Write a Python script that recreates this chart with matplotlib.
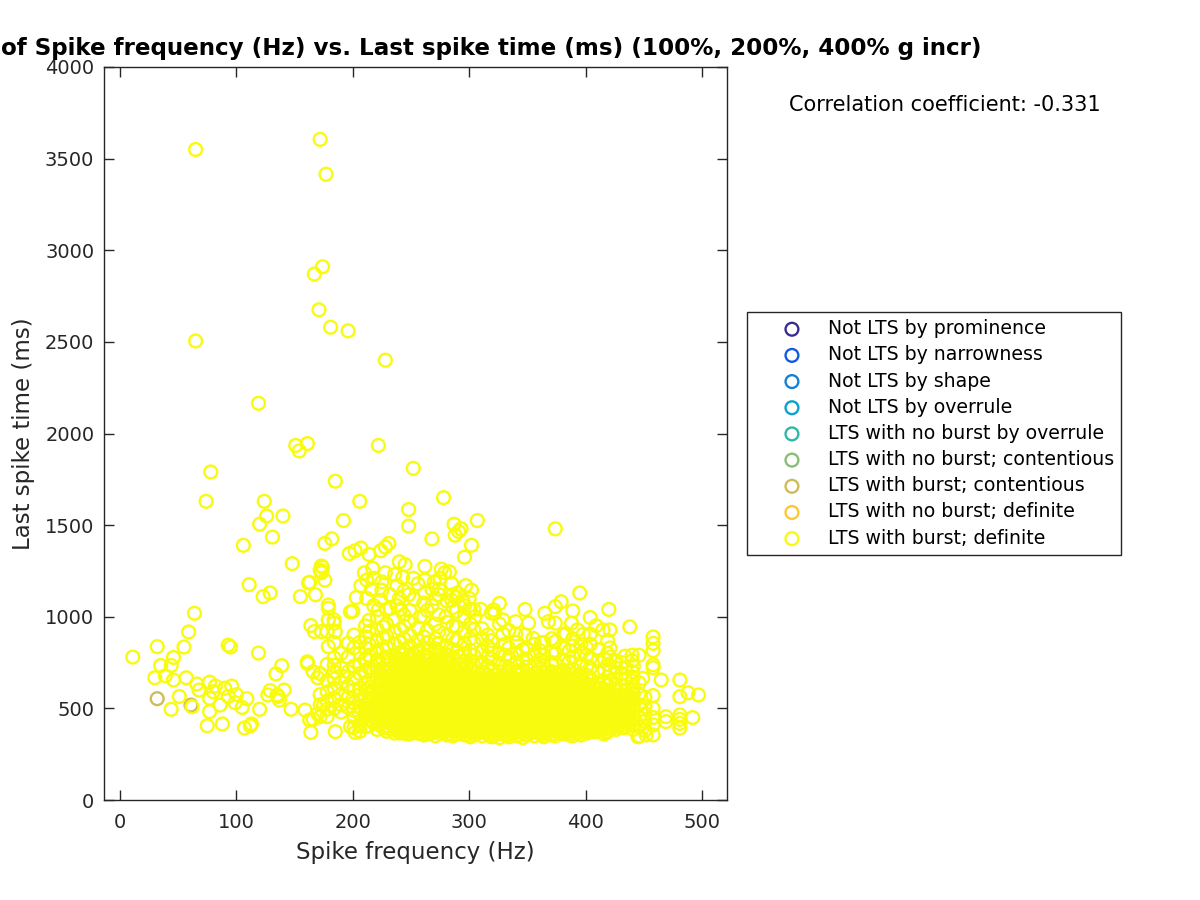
import matplotlib
matplotlib.use("Agg")
import matplotlib.pyplot as plt

# classes in legend order
class_names = ["Not LTS by prominence", "Not LTS by narrowness", "Not LTS by shape",
               "Not LTS by overrule", "LTS with no burst by overrule",
               "LTS with no burst; contentious", "LTS with burst; contentious",
               "LTS with no burst; definite", "LTS with burst; definite"]
class_colors = ["#3a2d90", "#0f5cdd", "#1481d6", "#06a4ca", "#2eb7a4",
                "#87bf77", "#d1bb59", "#fec832", "#f9fb0e"]

title_text = "of Spike frequency (Hz) vs. Last spike time (ms) (100%, 200%, 400% g incr)"
corr_text = "Correlation coefficient: -0.331"

# contentious burst cells
cont_freq = [32, 61]
cont_last = [553, 518]

# scattered cells outside the dense cloud
sparse_freq = [172, 65, 177, 174, 167, 171, 181, 196, 65, 228, 119, 222, 151, 154, 161, 252, 78, 185, 74, 124,
               206, 278, 248, 192, 120, 126, 140, 131, 106, 248, 287, 307, 374, 293, 291, 288, 302, 296, 268, 231,
               228, 224, 214, 207, 202, 197, 182, 176, 148, 174, 173, 176, 162, 168, 155, 129, 123, 111, 200, 203,
               207, 210, 217, 212, 216, 225, 228, 240, 245, 243, 252, 262, 253, 270, 276, 279, 275, 283, 285, 297,
               302, 300,
               32, 11, 64, 59, 55, 46, 35, 44, 30, 39, 46, 57, 66, 68, 77, 82, 80, 96, 90, 93,
               100, 109, 51, 44, 62, 77, 77, 86, 99, 105, 120, 75, 88, 107, 113, 112, 119, 93, 95, 139,
               134, 129, 127, 141, 135, 137, 136, 147, 163, 173, 172, 173, 161, 161, 166, 170, 179, 164, 167, 173,
               179, 185, 179, 179, 198, 179, 184, 184, 184, 184, 193, 164, 185, 198, 202, 159, 166, 163, 170, 175,
               395, 420, 438, 458, 458, 458, 458, 458, 465, 481, 488, 497, 481, 492, 481, 481, 481, 481, 469, 469,
               449, 445, 452, 458, 379, 374, 365, 368, 374, 389, 388, 404, 409, 415, 421, 383, 393, 398, 348, 326,
               321, 322, 329, 340, 351, 329, 340, 348, 355, 362, 458, 458, 458, 458, 440, 440, 440, 440, 440, 440,
               421, 421, 421, 421,
               212, 218, 224, 232, 238, 244, 236, 225, 218, 232, 240, 256, 262, 268, 274, 290, 285, 295, 305, 310,
               300, 262, 268, 280, 258, 248, 238, 222]
sparse_last = [3605, 3550, 3415, 2910, 2870, 2675, 2580, 2560, 2505, 2400, 2165, 1935, 1935, 1905, 1945, 1810, 1790, 1740, 1630, 1630,
               1630, 1650, 1585, 1525, 1505, 1550, 1550, 1435, 1390, 1495, 1505, 1525, 1480, 1480, 1465, 1445, 1390, 1325, 1425, 1400,
               1380, 1360, 1340, 1375, 1360, 1345, 1425, 1400, 1290, 1270, 1250, 1200, 1185, 1120, 1110, 1130, 1110, 1175, 1030, 1105,
               1170, 1240, 1265, 1200, 1150, 1145, 1240, 1300, 1285, 1215, 1210, 1275, 1095, 1190, 1260, 1240, 1210, 1245, 1180, 1170,
               1145, 1100,
               837, 780, 1019, 917, 835, 778, 734, 734, 667, 678, 655, 667, 633, 600, 643, 622, 591, 622, 610, 565,
               575, 553, 565, 495, 509, 482, 555, 518, 531, 505, 495, 405, 415, 393, 415, 405, 802, 845, 835, 733,
               688, 597, 573, 600, 573, 545, 565, 495, 1188, 1277, 1255, 1240, 754, 745, 700, 667, 837, 952, 919, 919,
               1064, 919, 1046, 983, 1027, 983, 983, 965, 776, 735, 673, 369, 373, 400, 369, 491, 440, 437, 470, 520,
               1130, 1040, 945, 890, 855, 815, 738, 722, 655, 655, 585, 573, 564, 450, 464, 440, 418, 392, 455, 428,
               664, 345, 355, 355, 1082, 1055, 1019, 973, 965, 1032, 965, 996, 951, 928, 928, 909, 928, 905, 1040, 1073,
               1037, 1019, 983, 973, 965, 906, 906, 900, 882, 858, 570, 500, 450, 410, 790, 760, 700, 650, 600, 560,
               830, 780, 700, 650,
               1100, 1060, 1090, 1120, 1170, 1140, 1230, 1190, 1210, 1045, 1100, 1180, 1130, 1060, 1120, 1130, 1090, 1080, 1000, 1040,
               1040, 1200, 1150, 1000, 1000, 1120, 1060, 1040]

# dense cloud, one list of last spike times per spike frequency
core_freq = [172, 178, 184, 190, 196, 201, 206, 211, 214, 221, 226, 229, 236, 241, 244, 249, 256, 261, 264, 271,
             274, 281, 286, 289, 296, 301, 304, 311, 316, 319, 326, 331, 334, 341, 346, 349, 356, 361, 364, 371,
             374, 381, 386, 389, 396, 401, 404, 411, 416, 419, 426, 431, 434, 441, 446, 451]
core_last = [
    [455, 520, 575, 690],
    [455, 495, 540, 590, 650, 740, 920],
    [500, 555, 610, 660, 700, 860],
    [480, 520, 575, 640, 720, 800],
    [505, 560, 620, 700, 780, 855],
    [395, 450, 490, 530, 600, 660, 730, 830, 900],
    [375, 410, 470, 505, 540, 575, 610, 690, 740, 800, 860],
    [400, 455, 490, 520, 560, 600, 640, 700, 770, 830, 890, 950],
    [405, 440, 480, 510, 545, 580, 615, 650, 720, 790, 850, 920, 980],
    [385, 430, 465, 495, 525, 560, 590, 625, 665, 710, 760, 815, 870, 930, 1000],
    [395, 420, 450, 480, 510, 540, 570, 605, 640, 680, 720, 770, 820, 885, 945],
    [375, 405, 435, 465, 490, 520, 545, 575, 600, 630, 660, 695, 735, 780, 835, 895, 960, 1040],
    [365, 395, 420, 450, 475, 500, 530, 555, 585, 610, 640, 670, 705, 745, 790, 850, 920, 985],
    [365, 385, 410, 440, 465, 490, 515, 540, 565, 595, 620, 650, 680, 715, 755, 805, 860, 930, 1040],
    [370, 400, 425, 450, 480, 505, 530, 555, 580, 605, 635, 660, 690, 725, 765, 820, 880, 950, 1010],
    [360, 385, 415, 440, 465, 490, 520, 545, 570, 595, 625, 650, 680, 710, 745, 790, 840, 900, 975, 1035],
    [365, 395, 420, 450, 475, 500, 525, 555, 580, 610, 635, 665, 695, 730, 770, 815, 870, 940],
    [355, 380, 410, 435, 460, 490, 515, 540, 565, 590, 620, 645, 675, 705, 740, 785, 830, 890, 1000, 1075],
    [360, 390, 415, 445, 470, 495, 525, 550, 575, 600, 630, 655, 685, 720, 760, 810, 860, 925, 1035],
    [350, 380, 405, 430, 460, 485, 510, 535, 565, 590, 615, 640, 670, 700, 735, 775, 825, 880, 960, 1100],
    [365, 390, 420, 445, 470, 500, 525, 550, 575, 605, 630, 660, 690, 725, 765, 805, 855, 920, 1010, 1150],
    [355, 380, 405, 435, 460, 485, 510, 540, 565, 590, 615, 645, 675, 705, 745, 790, 840, 900, 970, 1085],
    [350, 375, 400, 425, 450, 480, 505, 530, 555, 580, 610, 635, 665, 700, 730, 775, 820, 880, 950, 1050, 1120],
    [360, 385, 415, 440, 465, 490, 520, 545, 570, 600, 625, 655, 685, 720, 760, 810, 870, 945, 1030, 1105],
    [355, 380, 405, 430, 460, 485, 510, 535, 560, 590, 615, 645, 680, 715, 755, 800, 850, 920, 1000, 1060],
    [345, 370, 400, 425, 450, 475, 505, 530, 555, 580, 610, 640, 670, 710, 760, 815, 880, 960, 1040],
    [355, 385, 410, 435, 465, 490, 515, 540, 565, 595, 625, 655, 690, 735, 790, 860, 930, 1040],
    [350, 375, 400, 425, 450, 480, 505, 530, 555, 585, 615, 650, 700, 750, 810, 880, 935],
    [360, 385, 410, 440, 465, 490, 515, 540, 570, 600, 635, 680, 730, 780, 840, 900],
    [345, 370, 395, 420, 450, 475, 500, 530, 555, 585, 620, 665, 715, 770, 820, 870, 1020],
    [340, 365, 390, 415, 440, 465, 495, 520, 550, 580, 610, 655, 700, 745, 800, 960],
    [355, 380, 405, 430, 455, 485, 510, 535, 565, 600, 640, 685, 730, 790, 850],
    [345, 370, 395, 420, 450, 475, 500, 525, 555, 590, 630, 670, 720, 775, 830, 925],
    [350, 375, 400, 430, 455, 480, 505, 535, 570, 610, 650, 700, 750, 800, 860],
    [340, 365, 395, 420, 445, 470, 500, 525, 555, 590, 625, 665, 710, 760, 820],
    [355, 380, 405, 430, 460, 485, 510, 540, 570, 605, 640, 680, 725, 770, 830],
    [350, 375, 400, 425, 450, 480, 505, 530, 560, 590, 620, 655, 690, 740, 795, 850],
    [360, 385, 410, 435, 465, 490, 515, 545, 575, 605, 640, 675, 715, 765, 815],
    [345, 370, 395, 425, 450, 475, 505, 530, 555, 585, 615, 650, 690, 735, 790, 860],
    [355, 380, 405, 430, 460, 485, 510, 535, 565, 595, 625, 660, 700, 750, 805, 880],
    [350, 375, 400, 430, 455, 480, 505, 535, 560, 590, 625, 655, 695, 745, 800, 865],
    [360, 385, 410, 435, 460, 490, 515, 540, 570, 600, 630, 665, 710, 760, 830, 900],
    [355, 380, 405, 430, 455, 480, 510, 535, 565, 595, 625, 665, 705, 755, 815],
    [350, 375, 400, 425, 455, 480, 505, 530, 555, 585, 620, 660, 715, 780, 840, 880],
    [355, 380, 410, 435, 460, 485, 510, 540, 570, 600, 645, 690, 740, 800, 850],
    [365, 390, 415, 440, 465, 495, 520, 550, 590, 630, 680, 730, 790, 830],
    [375, 400, 425, 450, 480, 505, 530, 565, 610, 665, 720, 775, 850, 905],
    [380, 405, 430, 455, 480, 510, 540, 580, 640, 700, 760, 820],
    [360, 385, 410, 435, 465, 490, 520, 555, 600, 650, 710, 770],
    [375, 400, 425, 450, 480, 505, 540, 590, 625, 670, 740, 800, 870],
    [385, 410, 435, 460, 490, 515, 560, 605, 660, 720, 760],
    [395, 420, 445, 470, 500, 535, 575, 625, 690, 750],
    [400, 425, 450, 475, 510, 550, 600, 660, 720, 785],
    [385, 410, 435, 460, 490, 515, 545, 580, 620, 670, 730],
    [350, 400, 450, 520, 580, 640, 790],
    [380, 430, 470, 510, 560],
]

# second pass over the solid part of the cloud
fill_freq = [218, 223, 232, 238, 243, 246, 252, 258, 263, 267, 272, 278, 283, 291, 294, 298, 303, 307, 313, 318,
             322, 328, 333, 337, 343, 348, 352, 358, 363, 367, 372, 378, 383, 387, 393, 398, 403, 408, 413, 418,
             423, 428, 433, 438]
fill_last = [
    [420, 470, 505, 550, 600, 655, 705],
    [410, 455, 500, 530, 585, 630, 690, 740],
    [390, 420, 450, 478, 505, 533, 560, 590, 620, 648, 680, 715, 760],
    [378, 405, 432, 462, 488, 515, 542, 570, 598, 628, 655, 688, 722, 770],
    [375, 398, 428, 455, 482, 510, 537, 568, 595, 622, 652, 685, 720, 765, 800],
    [362, 388, 415, 443, 470, 497, 525, 552, 578, 608, 637, 668, 702, 742],
    [372, 402, 430, 458, 485, 512, 540, 567, 592, 622, 650, 682, 712, 752, 795],
    [368, 395, 422, 452, 478, 505, 533, 558, 585, 615, 645, 675, 708, 748],
    [375, 402, 428, 458, 483, 510, 538, 562, 590, 618, 642, 672, 702, 738, 780],
    [362, 390, 418, 448, 472, 500, 527, 555, 580, 608, 635, 665, 695, 730, 770],
    [378, 405, 432, 458, 485, 512, 538, 562, 592, 620, 650, 678, 712, 750, 790],
    [368, 392, 420, 447, 473, 498, 525, 553, 578, 602, 632, 660, 692, 728, 765],
    [362, 388, 414, 440, 468, 493, 520, 545, 570, 597, 625, 652, 684, 718, 758],
    [372, 398, 425, 452, 478, 505, 532, 558, 585, 612, 640, 670, 705, 740, 785],
    [366, 392, 418, 445, 472, 498, 522, 548, 575, 603, 632, 662, 695, 735],
    [358, 384, 412, 438, 463, 490, 518, 543, 568, 595, 625, 655, 690, 730],
    [368, 396, 422, 450, 477, 503, 528, 552, 580, 610, 640, 672, 712],
    [362, 388, 414, 438, 465, 492, 518, 542, 570, 598, 632, 668],
    [372, 398, 424, 452, 478, 503, 528, 555, 585, 618, 655, 695],
    [358, 384, 412, 438, 463, 488, 515, 542, 570, 602, 640],
    [352, 378, 404, 432, 458, 484, 510, 538, 565, 595, 632, 680],
    [364, 392, 418, 444, 470, 498, 522, 550, 580, 615, 655],
    [356, 382, 408, 435, 462, 488, 512, 540, 572, 608, 645, 695],
    [362, 388, 414, 442, 468, 492, 518, 545, 578, 620, 665],
    [352, 378, 408, 432, 458, 484, 512, 540, 572, 608, 645, 690],
    [368, 392, 418, 445, 472, 498, 525, 555, 588, 622, 660],
    [362, 388, 412, 438, 465, 492, 518, 545, 575, 605, 638, 672],
    [372, 398, 422, 450, 478, 502, 530, 560, 590, 622, 658, 695],
    [358, 382, 410, 438, 462, 490, 518, 542, 570, 600, 632, 670],
    [368, 392, 418, 445, 472, 498, 522, 548, 578, 610, 640, 678],
    [362, 388, 415, 442, 468, 492, 520, 548, 575, 608, 640, 675],
    [372, 398, 422, 448, 475, 502, 528, 555, 585, 615, 648, 685],
    [368, 392, 418, 442, 468, 495, 522, 550, 580, 610, 645],
    [362, 388, 412, 438, 465, 492, 518, 542, 570, 602, 640, 680],
    [368, 395, 422, 448, 472, 498, 525, 555, 585, 622, 668],
    [378, 402, 428, 452, 478, 505, 535, 570, 610, 655],
    [385, 412, 438, 462, 492, 518, 548, 585, 625],
    [372, 398, 422, 448, 472, 498, 528, 565, 620],
    [388, 415, 440, 468, 495, 525, 570, 610],
    [368, 395, 422, 448, 478, 498, 530, 575],
    [392, 418, 442, 472, 495, 525, 565],
    [402, 428, 455, 482, 508, 540],
    [395, 420, 448, 478, 505, 530, 570],
    [408, 432, 458, 488, 520, 550],
]

plot_x = list(sparse_freq)
plot_y = list(sparse_last)
for f, times in zip(core_freq + fill_freq, core_last + fill_last):
    for t in times:
        plot_x.append(f)
        plot_y.append(t)

fig = plt.figure(figsize=(12, 9), dpi=100)
ax = fig.add_axes([104 / 1200, 1 - 800 / 900, 623 / 1200, 733 / 900])

dark = "#262626"
ring = dict(s=85, facecolors="none", linewidths=1.7)

# empty classes, only there for the legend
for name, col in zip(class_names[:6], class_colors[:6]):
    ax.scatter([], [], edgecolors=col, label=name, **ring)
ax.scatter(cont_freq, cont_last, edgecolors=class_colors[6], label=class_names[6], **ring)
ax.scatter([], [], edgecolors=class_colors[7], label=class_names[7], **ring)
ax.scatter(plot_x, plot_y, edgecolors=class_colors[8], label=class_names[8], **ring)

ax.set_xlim(-13.7, 521.5)
ax.set_ylim(0, 4000)
ax.set_xticks([0, 100, 200, 300, 400, 500])
ax.set_yticks(range(0, 4001, 500))
ax.tick_params(direction="in", length=7, width=1, top=True, right=True, colors=dark, labelsize=14)
ax.tick_params(axis="x", pad=9)
ax.tick_params(axis="y", pad=7)
for s in ax.spines.values():
    s.set_color(dark)
    s.set_linewidth(1)

ax.set_xlabel("Spike frequency (Hz)", fontsize=16.5, color=dark, labelpad=7)
ax.set_ylabel("Last spike time (ms)", fontsize=16.5, color=dark, labelpad=7)
fig.text(491 / 1200, 1 - 48 / 900, title_text, fontsize=16.6, fontweight="bold", ha="center", va="center")

fig.text(789 / 1200, 1 - 105 / 900, corr_text, fontsize=15, va="center", ha="left")

leg = fig.legend(loc="upper left", bbox_to_anchor=(747 / 1200, 1 - 312 / 900), bbox_transform=fig.transFigure,
                 fontsize=13.6, frameon=True, fancybox=False, framealpha=1, edgecolor=dark,
                 borderaxespad=0, borderpad=0.38, labelspacing=0.38, handletextpad=-0.1, handlelength=4.0)
leg.get_frame().set_linewidth(1)

fig.savefig("out.png", dpi=100)
